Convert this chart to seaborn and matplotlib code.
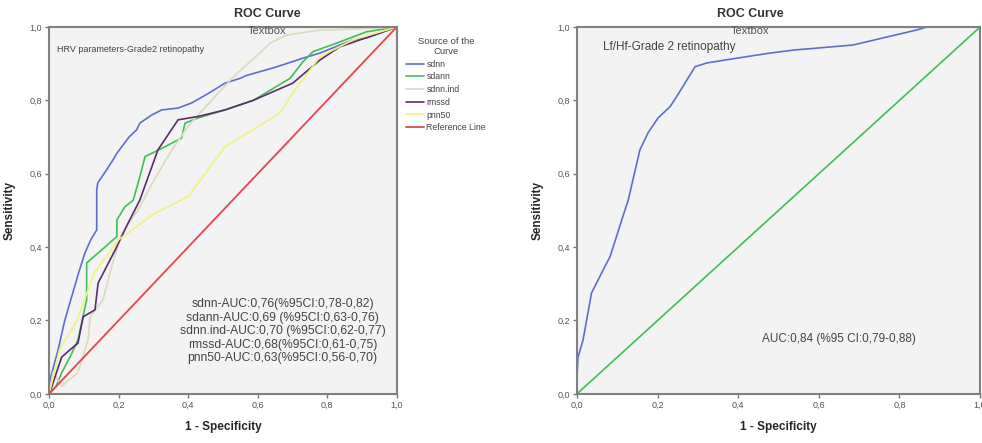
import numpy as np
import pandas as pd
import matplotlib.pyplot as plt
import seaborn as sns

sns.set_style('white')
plt.rcParams['font.family'] = ['Liberation Sans', 'DejaVu Sans']

# left panel curves (1 - specificity, sensitivity)
sdnn_fpr = [0, 0.003, 0.026, 0.045, 0.065, 0.085, 0.103, 0.12, 0.137, 0.137, 0.14, 0.165, 0.184, 0.195, 0.23, 0.252, 0.261, 0.295, 0.324, 0.371, 0.41, 0.46, 0.506, 0.549, 0.568, 0.65, 0.73, 0.779, 0.874, 0.913, 1.0]
sdnn_tpr = [0, 0.04, 0.12, 0.2, 0.265, 0.33, 0.384, 0.42, 0.447, 0.556, 0.575, 0.61, 0.638, 0.656, 0.70, 0.72, 0.738, 0.76, 0.774, 0.779, 0.793, 0.82, 0.847, 0.86, 0.868, 0.89, 0.915, 0.929, 0.965, 0.97, 1.0]

sdann_fpr = [0, 0.02, 0.036, 0.06, 0.083, 0.108, 0.108, 0.151, 0.195, 0.195, 0.218, 0.242, 0.261, 0.276, 0.305, 0.381, 0.391, 0.428, 0.506, 0.587, 0.693, 0.73, 0.759, 0.827, 0.913, 1.0]
sdann_tpr = [0, 0.02, 0.057, 0.10, 0.147, 0.256, 0.357, 0.392, 0.429, 0.474, 0.51, 0.528, 0.592, 0.647, 0.66, 0.697, 0.738, 0.752, 0.774, 0.80, 0.86, 0.905, 0.933, 0.956, 0.987, 1.0]

sdnnind_fpr = [0, 0.012, 0.036, 0.06, 0.083, 0.112, 0.118, 0.155, 0.18, 0.209, 0.256, 0.30, 0.35, 0.40, 0.434, 0.53, 0.615, 0.635, 0.683, 0.779, 0.816, 1.0]
sdnnind_tpr = [0, 0.06, 0.02, 0.04, 0.057, 0.147, 0.21, 0.256, 0.347, 0.438, 0.501, 0.58, 0.66, 0.73, 0.766, 0.864, 0.937, 0.956, 0.978, 0.992, 0.992, 1.0]

rmssd_fpr = [0, 0.008, 0.036, 0.06, 0.083, 0.098, 0.132, 0.141, 0.19, 0.227, 0.261, 0.313, 0.371, 0.428, 0.506, 0.587, 0.701, 0.779, 0.836, 0.922, 1.0]
rmssd_tpr = [0, 0.02, 0.10, 0.12, 0.138, 0.21, 0.229, 0.302, 0.392, 0.465, 0.528, 0.665, 0.747, 0.756, 0.774, 0.80, 0.847, 0.91, 0.946, 0.974, 1.0]

pnn50_fpr = [0, 0.03, 0.08, 0.13, 0.2, 0.3, 0.4, 0.506, 0.587, 0.664, 0.701, 0.779, 0.874, 1.0]
pnn50_tpr = [0, 0.12, 0.2, 0.33, 0.42, 0.49, 0.538, 0.674, 0.72, 0.766, 0.82, 0.919, 0.965, 1.0]

# right panel curve
lfhf_fpr = [0, 0.0, 0.0025, 0.015, 0.036, 0.065, 0.082, 0.111, 0.127, 0.156, 0.176, 0.201, 0.231, 0.247, 0.293, 0.322, 0.396, 0.479, 0.536, 0.685, 0.843, 0.868, 1.0]
lfhf_tpr = [0, 0.05, 0.10, 0.147, 0.275, 0.338, 0.374, 0.474, 0.528, 0.665, 0.711, 0.752, 0.783, 0.81, 0.892, 0.902, 0.915, 0.929, 0.937, 0.951, 0.992, 1.0, 1.0]

ref_line = [0, 1]

left_curves = [
    ('sdnn', sdnn_fpr, sdnn_tpr, '#5d70c9'),
    ('sdann', sdann_fpr, sdann_tpr, '#3fbf55'),
    ('sdnn.ind', sdnnind_fpr, sdnnind_tpr, '#dcd9bd'),
    ('rmssd', rmssd_fpr, rmssd_tpr, '#5b2c6e'),
    ('pnn50', pnn50_fpr, pnn50_tpr, '#f2f27e'),
]

left_notes = ['sdnn-AUC:0,76(%95CI:0,78-0,82)',
              'sdann-AUC:0,69 (%95CI:0,63-0,76)',
              'sdnn.ind-AUC:0,70 (%95CI:0,62-0,77)',
              'rmssd-AUC:0,68(%95CI:0,61-0,75)',
              'pnn50-AUC:0,63(%95CI:0,56-0,70)']
right_note = 'AUC:0,84 (%95 CI:0,79-0,88)'

ticks = [0, 0.2, 0.4, 0.6, 0.8, 1.0]
tick_labels = ['0,0', '0,2', '0,4', '0,6', '0,8', '1,0']

fig = plt.figure(figsize=(9.82, 4.43), dpi=100, facecolor='w')
ax1 = fig.add_axes([0.050, 0.111, 0.354, 0.828])
ax2 = fig.add_axes([0.5876, 0.111, 0.4104, 0.828])


def style_axes(ax):
    ax.set_facecolor('#f3f3f3')
    ax.set_xlim(0, 1)
    ax.set_ylim(0, 1)
    ax.set_xticks(ticks)
    ax.set_yticks(ticks)
    ax.set_xticklabels(tick_labels, fontsize=6.5, color='#555555')
    ax.set_yticklabels(tick_labels, fontsize=6.5, color='#555555')
    ax.tick_params(length=3, width=1, color='#777777', pad=2,
                   bottom=True, left=True)
    for sp in ax.spines.values():
        sp.set_color('#808080')
        sp.set_linewidth(1.5)
    ax.set_xlabel('1 - Specificity', fontsize=8.5, fontweight='bold', labelpad=8)
    ax.set_ylabel('Sensitivity', fontsize=8.5, fontweight='bold', labelpad=10)


for name, fpr, tpr, col in left_curves:
    df = pd.DataFrame({'fpr': fpr, 'tpr': tpr})
    sns.lineplot(data=df, x='fpr', y='tpr', ax=ax1, sort=False, estimator=None,
                 color=col, lw=1.2, label=name)
sns.lineplot(x=ref_line, y=ref_line, ax=ax1, color='#e8434f', lw=1.3,
             label='Reference Line')
style_axes(ax1)
leg = ax1.legend(title='Source of the\nCurve', loc='upper left',
                 bbox_to_anchor=(1.005, 0.995), frameon=False, fontsize=6.3,
                 title_fontsize=6.8, handlelength=2.0, handletextpad=0.3,
                 labelspacing=0.42)
leg.get_title().set_multialignment('center')
leg.get_title().set_color('#444444')
for t in leg.get_texts():
    t.set_color('#444444')

ax1.text(0.022, 0.94, 'HRV parameters-Grade2 retinopathy', fontsize=6.5,
         color='#444444', va='center')
ax1.text(0.672, 0.171, '\n'.join(left_notes), ha='center', va='center',
         fontsize=8.7, color='#444444', linespacing=1.17)

df_r = pd.DataFrame({'fpr': lfhf_fpr, 'tpr': lfhf_tpr})
sns.lineplot(data=df_r, x='fpr', y='tpr', ax=ax2, sort=False, estimator=None,
             color='#5d70c9', lw=1.2)
sns.lineplot(x=ref_line, y=ref_line, ax=ax2, color='#3fbf55', lw=1.2)
style_axes(ax2)
ax2.text(0.065, 0.945, 'Lf/Hf-Grade 2 retinopathy', fontsize=8.5,
         color='#444444', va='center')
ax2.text(0.65, 0.15, right_note, ha='center', va='center', fontsize=8.5,
         color='#444444')

# titles as in the SPSS output
for xc in (267 / 982, 750 / 982):
    fig.text(xc, 1 - 14 / 443, 'ROC Curve', ha='center', va='center',
             fontsize=9, fontweight='bold', color='#333333')
    fig.text(xc, 1 - 31 / 443, 'Textbox', ha='center', va='center',
             fontsize=8, color='#555555')

fig.savefig('out.png', dpi=100, facecolor='w')
